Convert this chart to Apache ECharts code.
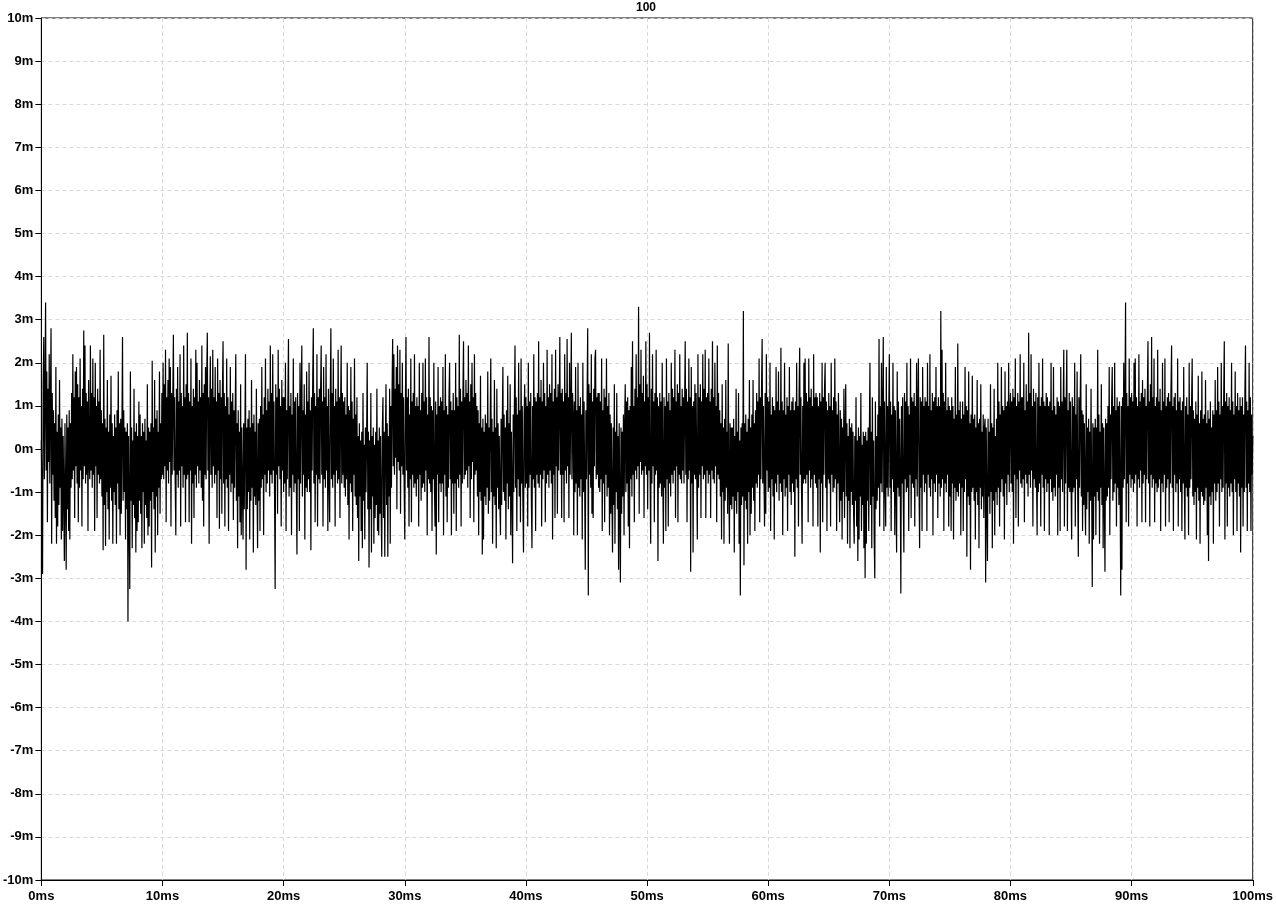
<!DOCTYPE html>
<html>
<head>
<meta charset="utf-8">
<script src="https://cdn.jsdelivr.net/npm/echarts@6/dist/echarts.min.js"></script>
<style>html,body{margin:0;padding:0;background:#fff}#c{width:1276px;height:906px}</style>
</head>
<body>
<div id="c"></div>
<script>
const chartTitle = '100';
const sampleStepMs = 0.05;
const xTicksMs = [0,10,20,30,40,50,60,70,80,90,100];
const yTicksMv = [-10,-9,-8,-7,-6,-5,-4,-3,-2,-1,0,1,2,3,4,5,6,7,8,9,10];
// trace values in mV, one row per millisecond (20 samples each, 0.05 ms apart)
const noiseMv = [
0.2,-1.1,-2.9,1.5,2.6,-0.7,1.2,3.4,-0.5,1.8,-1.7,1.4,-0.3,2.2,-0.8,1.1,2.8,-2.2,1.3,-0.6,
0.9,-1.2,0.6,-1.6,1.9,-2.2,0.4,-1.8,0.8,-1.3,1.6,-0.9,0.5,-2.1,0.7,-1.9,0.3,-1.1,-2.6,0.6,
-1.0,-2.8,0.8,-1.4,0.5,-1.9,0.9,-2.1,0.6,-0.9,1.3,-0.7,2.2,-0.5,1.2,-1.6,1.8,-0.4,1.9,-0.8,
1.5,-1.7,1.2,-0.9,2.1,-0.5,1.0,-1.8,1.4,-0.7,2.75,-0.4,2.4,-0.8,1.3,-0.6,1.1,-1.9,1.6,-0.3,
-0.7,2.4,-0.5,1.3,-0.9,2.1,-0.6,1.2,-1.9,2.0,-0.4,1.0,-1.6,1.4,-0.6,1.1,-0.8,2.3,-0.7,0.9,
-1.1,0.6,-2.35,2.65,-1.3,0.7,-2.25,0.5,-1.0,1.6,-1.4,0.4,-2.1,0.8,-0.9,1.7,-1.2,0.6,-2.2,0.3,
-1.0,0.8,-1.3,0.5,-2.2,0.9,-0.8,1.8,-1.4,0.6,-2.0,0.7,-1.5,0.4,2.6,-1.2,0.9,-1.0,0.5,-2.1,
0.4,-1.4,0.6,-4.0,0.3,-1.5,-3.25,1.8,-1.2,0.5,-2.3,0.2,-1.3,1.4,-1.6,0.4,-2.4,0.6,-1.9,0.3,
-1.7,1.1,-1.2,0.8,-1.5,0.3,-2.3,0.6,-1.0,0.4,-2.2,0.7,-1.3,0.2,-1.6,1.5,-2.0,0.5,-1.8,0.4,
-1.2,0.6,-2.75,2.05,-1.0,0.5,-1.4,1.6,-2.4,0.7,-1.1,0.9,-2.0,0.4,-0.9,1.8,-1.5,0.6,-0.7,1.3,
-0.6,2.0,-0.7,1.5,-0.4,2.3,-1.7,1.2,-0.5,1.6,-0.8,2.1,-0.3,1.9,-1.8,1.3,-0.6,1.1,2.65,-0.5,
1.2,-0.8,-2.0,1.4,-0.6,1.9,-0.9,1.1,-0.5,2.2,-1.8,1.3,-0.4,1.0,-0.9,2.4,-0.6,1.2,-1.7,1.5,
-0.7,2.7,-0.6,1.3,-1.7,1.1,-0.5,2.1,-2.2,1.0,-0.8,1.4,-1.6,1.2,-0.6,2.3,-0.9,2.0,-0.4,1.1,
-0.8,1.6,-0.5,1.2,-0.9,2.4,-1.2,1.3,-1.8,1.5,-0.6,1.9,-0.7,1.7,2.7,-0.5,1.2,-2.2,0.9,2.15,
-0.6,1.4,-0.9,2.3,-0.4,1.2,-0.8,1.9,-0.6,1.1,-1.6,2.1,-0.5,1.3,-1.85,1.6,-0.7,1.2,-1.5,1.4,
2.5,-0.8,1.3,-1.8,1.0,-0.7,2.1,-0.9,1.2,-1.9,0.8,-0.6,1.9,-1.0,1.1,-0.8,1.3,-1.65,0.9,-0.9,
0.8,2.2,-1.2,0.6,-2.3,0.9,-1.1,0.4,-1.7,1.5,-2.0,0.5,-1.0,-2.1,0.6,-1.4,0.3,2.2,-2.8,0.5,
-1.4,0.7,-1.0,0.9,-2.1,0.5,-1.2,1.6,-0.9,0.6,-2.4,0.8,-1.1,0.4,-1.3,1.4,-0.8,-2.3,0.6,-1.2,
0.7,-1.9,1.0,-0.9,1.9,-0.7,0.8,-2.0,1.2,-0.6,2.1,-1.0,0.9,-0.8,1.4,-0.5,1.1,-1.1,2.4,-0.6,
1.3,-0.8,2.2,-0.5,1.1,-1.0,-3.25,1.5,-0.6,1.2,-1.5,2.3,-0.4,1.4,-0.7,1.0,-1.8,1.6,-0.5,1.2,
-1.0,1.2,-0.8,2.0,-1.9,0.9,-0.7,1.1,2.55,-1.1,1.0,-0.9,1.3,-2.0,0.8,-0.6,2.1,-1.0,1.1,-0.8,
1.2,-0.9,-2.45,1.3,-0.7,1.0,-1.9,2.0,-0.8,1.1,2.4,-1.1,0.9,-0.6,1.5,-2.1,0.8,-0.9,1.8,-1.0,
1.1,-0.7,2.0,-1.0,0.9,-2.35,1.2,-0.5,1.6,2.8,-0.8,1.3,-1.7,1.0,-0.6,2.2,-1.8,1.2,-0.7,1.4,
-0.8,1.3,2.4,-0.6,1.1,-1.8,1.9,-0.7,1.2,-0.9,2.2,-0.5,1.0,-1.9,1.4,-0.6,-1.7,1.2,2.8,-0.7,
1.3,-0.9,2.1,-0.6,1.0,-1.8,1.4,-0.5,1.1,-0.8,2.3,-0.7,1.2,-1.6,0.9,2.4,-0.8,1.3,-0.6,1.1,
-0.9,1.2,-1.1,0.8,-0.7,2.0,-1.3,1.0,-2.1,0.9,-0.8,1.9,-1.0,1.1,-1.9,0.7,-0.6,2.1,-1.1,0.8,
-1.3,1.2,-1.6,0.3,-2.6,0.6,-1.1,0.2,-1.9,0.4,-2.3,1.3,-1.2,0.1,-2.1,0.5,-1.0,0.3,2.0,-1.4,
0.4,-2.75,0.2,-1.4,1.3,-2.4,0.3,-1.1,0.5,-2.2,0.1,-1.6,0.4,-1.3,1.4,-1.9,0.2,-2.0,0.5,-1.5,
0.3,-1.4,-2.5,0.5,1.2,-1.6,0.4,-2.5,0.2,1.5,-1.3,0.6,-2.5,0.3,-1.1,1.4,-2.2,1.0,-0.9,1.3,
2.55,-0.4,2.2,-0.6,1.4,-0.2,1.9,-1.4,2.4,-0.3,1.5,-0.5,2.3,-1.5,1.3,-0.4,2.0,-0.6,1.2,-0.9,
-2.1,1.0,2.6,-0.5,1.2,-0.9,1.4,-1.8,0.8,-0.7,2.1,-1.7,1.1,-0.6,1.3,-0.9,2.2,-0.8,1.0,-1.1,
1.2,-0.7,1.0,-1.8,2.0,-0.6,0.9,-1.2,1.3,-0.9,2.0,-0.8,1.1,-1.0,2.1,-0.5,1.2,-2.0,0.8,-0.7,
2.6,-0.8,1.2,-1.0,1.0,-1.9,0.9,-0.7,2.0,-0.9,-1.8,1.1,-2.45,0.8,-0.6,1.9,-1.7,1.0,-0.8,1.2,
-1.0,1.1,-0.8,1.9,-2.0,0.9,-0.6,2.2,-1.1,1.0,-1.7,0.8,-0.9,1.2,2.0,-0.7,1.1,-2.0,0.9,-0.8,
1.3,-1.5,0.9,-0.8,2.0,-1.9,1.2,-0.7,1.0,-0.9,2.65,-0.6,1.4,-1.8,1.1,-0.8,1.3,2.5,-0.7,1.2,
-0.6,1.6,-0.5,1.3,-0.9,2.4,-0.4,1.1,-1.6,1.5,-0.7,2.0,-0.3,1.2,-1.7,2.2,-0.6,1.3,-0.5,1.0,
-1.1,0.9,-2.0,0.6,-1.0,1.7,-1.2,0.5,-2.45,0.7,-2.1,0.4,-1.1,0.8,-1.3,0.6,-0.9,1.8,-1.5,0.5,
-1.2,0.6,2.1,-1.0,0.7,-2.2,0.4,-1.1,1.6,-1.3,0.5,-2.3,1.4,-0.9,0.6,-1.4,0.3,-1.2,-2.0,0.7,
-1.3,0.6,1.9,-1.0,0.8,-1.2,0.5,-2.1,0.9,-0.8,1.7,-1.4,0.6,-1.1,1.5,-2.0,0.4,-0.9,-2.65,0.8,
-1.0,1.1,2.4,-0.9,1.2,-1.9,0.8,-0.7,2.0,-1.1,0.9,-1.7,2.1,-0.8,1.0,-1.2,-2.4,0.7,1.5,-0.9,
1.2,-0.8,1.0,-1.8,2.0,-0.9,1.1,-0.6,1.3,-1.2,-2.3,1.0,-0.7,2.2,-0.9,1.2,-1.9,1.1,-0.6,1.3,
-0.8,2.5,-0.9,1.2,-0.6,1.6,-1.8,1.1,-0.7,2.0,-0.5,1.3,-1.7,1.0,-0.8,2.3,-0.6,1.2,-0.9,1.5,
-0.5,1.3,-0.8,2.2,-2.1,1.1,-0.6,1.4,-1.6,2.3,-0.4,1.2,-1.5,1.5,-0.5,1.0,2.6,-0.6,1.3,-1.6,
1.4,-0.6,1.1,-1.7,2.2,-0.5,1.3,-0.8,2.55,-0.4,1.2,-1.6,2.0,-0.6,1.0,2.7,-0.7,1.3,0.8,-2.0,
1.1,-1.0,1.9,-0.8,0.9,-2.0,2.0,-0.9,1.0,-1.1,1.2,-0.7,0.8,-2.1,2.0,-1.0,1.1,-0.8,-2.8,0.9,
-0.7,1.2,2.8,-3.4,1.5,-0.6,1.3,-0.9,2.2,-1.5,1.1,-1.6,1.4,-0.4,2.1,2.3,-0.7,1.2,-0.6,1.3,
-0.9,1.3,-1.0,1.1,-0.7,2.1,-1.9,0.9,-0.8,1.4,-1.7,1.2,-0.6,2.1,-1.1,1.0,-0.9,1.3,-2.0,0.8,
-1.5,0.6,-1.1,-2.4,0.5,-1.3,1.5,-2.2,0.4,-1.0,1.3,-1.4,0.3,-2.8,0.6,-1.2,-3.1,0.5,-1.5,0.4,
-1.1,0.8,-2.0,0.6,1.5,-1.0,1.1,-0.8,1.2,-1.8,0.9,-2.3,1.0,-0.7,1.9,-1.1,2.5,-0.6,1.0,-1.7,
1.4,-0.5,2.2,-0.7,1.2,-0.4,3.3,-1.5,1.5,-0.3,2.3,-0.6,1.3,-0.5,1.7,-1.6,1.1,-0.4,2.5,-0.6,
1.5,-1.4,1.2,-0.5,2.7,-0.6,-2.2,1.4,-0.8,2.2,-0.4,1.1,-1.7,1.3,-0.6,2.3,-0.5,1.2,-2.6,1.0,
-0.9,1.3,-0.8,1.1,-1.1,2.0,-0.6,-2.2,1.2,-0.9,1.0,-1.9,2.1,-0.7,1.1,-1.8,1.3,-0.8,0.9,-1.1,
2.0,-0.6,1.4,-0.8,1.2,-0.5,2.3,-1.6,1.1,-0.4,1.5,-1.7,1.3,-0.6,2.2,-0.7,1.0,-0.8,1.4,-0.5,
1.2,-0.8,1.0,2.5,-0.6,1.4,-1.7,1.1,-0.7,2.1,-0.5,1.2,-2.85,1.9,-0.8,1.0,-2.4,1.1,-0.6,1.5,
-0.7,1.3,-0.5,-2.1,2.2,-0.9,1.2,-0.6,1.5,-1.6,1.1,-0.4,2.2,-0.7,1.4,-0.6,2.3,-1.6,1.2,-0.5,
1.3,-0.8,2.1,-0.6,1.1,-1.6,1.4,-0.5,2.5,-0.7,1.2,-0.8,2.0,-0.4,1.0,-1.7,2.4,-0.6,1.3,-0.7,
0.9,-1.1,0.6,-2.1,1.5,-1.0,0.5,-2.2,0.7,-1.2,1.6,-0.9,0.4,-1.5,2.45,-0.8,-2.2,0.6,-1.3,0.5,
-1.4,0.5,-1.1,0.7,-2.4,0.3,-1.2,1.4,-1.5,0.4,-1.0,1.3,-2.2,0.2,-3.4,0.5,-1.3,0.6,-1.1,3.2,
-2.7,0.6,-1.2,0.8,-1.4,0.4,-2.2,0.7,-1.0,1.6,-2.0,0.5,-1.5,0.8,-0.9,1.6,-1.2,0.6,-1.9,0.9,
-0.8,1.3,-0.9,1.1,-0.6,2.1,-1.7,1.2,-0.7,1.4,2.55,-0.8,1.0,-0.6,-1.8,1.3,-1.5,2.2,-0.5,1.2,
-1.0,1.1,-0.9,2.0,-1.9,0.8,-0.7,1.2,-1.1,1.0,-2.1,0.9,-0.8,1.9,-1.0,1.1,-0.6,1.8,-1.2,0.9,
-0.8,2.35,-1.0,1.1,-2.0,0.9,-0.7,2.0,-1.1,0.8,-0.9,1.2,-1.9,1.0,-0.6,1.9,-1.0,0.9,-1.3,1.1,
-0.8,1.2,-1.0,0.9,-2.5,1.1,-0.7,2.0,-0.9,1.0,-1.8,1.3,2.35,-0.6,1.2,-0.9,-2.2,1.0,-0.8,2.0,
-0.7,2.1,-0.8,1.3,-0.6,1.1,-1.7,2.1,-0.5,1.2,-0.9,1.4,-0.7,1.0,-1.8,2.2,-0.6,1.2,-0.8,1.3,
-0.9,1.2,-1.8,1.0,-0.7,1.3,-2.4,1.1,-0.8,2.0,-1.7,1.2,-0.6,1.4,2.0,-0.9,1.1,-1.9,0.9,-0.7,
1.3,-0.8,1.0,-1.8,2.0,-0.6,0.9,-1.0,1.2,-0.9,2.1,-0.7,1.1,-1.9,0.8,-0.8,1.3,-0.6,-1.7,0.9,
-1.2,0.7,-2.1,0.5,-1.0,1.4,-1.6,0.4,1.5,-1.1,0.6,-2.2,0.3,-1.2,0.7,-2.3,0.5,-1.0,0.6,-1.3,
0.4,-1.5,-2.2,0.3,-1.2,1.2,-1.8,0.2,-2.6,0.5,-2.1,0.3,-1.1,1.3,-1.9,0.1,-1.3,0.4,-2.3,0.3,
-3.0,0.4,-2.2,0.2,-1.2,0.5,-1.9,0.3,2.0,-1.3,0.4,-2.3,1.2,-1.1,0.2,-2.1,-3.0,1.1,-1.4,0.3,
-1.2,0.8,-0.9,2.55,-1.8,1.0,-0.8,2.0,-1.0,0.9,2.6,-1.9,1.1,-0.7,-1.8,1.9,-0.9,1.0,-1.1,0.8,
2.2,-0.9,1.1,-1.9,0.8,-0.7,2.0,-1.0,1.0,-2.0,0.9,-0.8,-2.4,1.8,-0.9,1.1,-1.1,0.7,-0.6,-3.35,
1.0,-0.8,1.2,-1.1,-2.4,1.3,-0.7,1.1,-1.0,2.0,-0.9,1.0,-1.9,0.8,-0.6,2.1,-1.6,1.2,-0.8,1.1,
-0.9,1.3,-1.8,1.0,-0.7,2.0,-1.1,0.9,2.1,-0.8,-2.3,1.2,-0.9,1.1,-1.9,1.9,-0.6,1.0,-1.0,1.2,
-0.8,1.1,-1.9,2.0,-0.6,1.0,-0.9,2.2,-1.1,0.9,-0.7,1.3,-2.0,1.1,-0.8,1.2,-1.0,1.9,-0.6,1.0,
-1.6,1.2,-0.8,1.0,-1.1,3.2,-0.9,2.3,-0.7,1.3,-1.9,1.1,-0.8,2.0,-1.0,0.9,-0.6,1.2,-1.8,1.0,
-1.1,0.9,-1.9,1.2,-0.8,1.0,-2.1,0.7,-0.9,1.9,-1.2,0.8,-1.0,2.45,-1.1,0.9,-0.8,1.1,-2.0,0.7,
-0.9,1.1,-1.9,0.8,-1.0,1.9,-0.7,1.0,-2.5,0.9,-1.1,1.8,-1.3,0.6,-2.8,0.8,-1.0,1.7,-0.9,0.7,
-1.2,0.8,-2.1,0.5,-1.0,1.6,-1.3,0.6,-2.3,0.7,-0.9,1.5,-1.4,0.4,-1.1,0.8,-1.6,0.5,0.7,-3.1,
0.5,-1.3,-2.6,0.7,-1.1,0.4,-1.5,1.5,-1.0,0.6,-2.3,0.5,-1.2,1.4,-2.0,0.3,-1.0,0.7,-1.3,2.0,
-0.9,1.1,-1.8,0.8,-1.0,1.9,-0.7,1.0,-1.1,0.9,-2.1,1.8,-0.8,1.0,-1.3,1.1,-0.6,2.0,-1.0,0.8,
1.3,-0.8,1.1,-1.0,1.4,-2.2,1.2,-0.6,2.1,-1.6,1.0,-0.7,1.3,-1.8,1.1,-0.5,2.2,-0.8,1.2,-0.9,
1.2,-0.7,2.0,-1.7,0.9,-0.6,1.5,-0.8,1.1,-1.1,2.7,-0.6,1.3,-0.9,2.2,-0.5,1.0,-1.8,1.4,-0.7,
1.1,-0.9,1.3,-0.7,-2.0,1.2,-1.0,2.0,-0.8,1.0,-1.8,1.2,-0.6,2.1,-0.9,1.1,-1.9,1.0,-0.7,1.3,
-1.0,1.2,-0.8,1.0,-2.0,1.1,-0.7,2.0,-1.0,0.9,-1.2,1.9,-0.9,1.0,-1.1,0.8,-0.6,1.2,-2.0,1.1,
-0.9,1.0,-1.9,1.9,-0.7,1.1,-1.0,0.9,2.3,-1.8,1.2,-0.8,1.0,2.3,-1.9,0.9,-0.9,1.3,-1.0,1.1,
-0.8,-2.1,1.2,-1.0,1.0,-0.9,2.0,-1.8,0.8,-0.7,1.8,-1.0,-2.5,1.2,-0.9,1.0,2.2,-1.1,0.9,-1.9,
0.8,-1.3,0.6,-1.1,-2.0,1.5,-1.4,0.5,-1.0,0.7,-2.2,0.4,-1.2,1.4,-0.9,-3.2,0.6,-2.1,0.5,-1.1,
0.7,-2.0,0.5,-1.0,2.3,-1.2,0.8,-2.2,0.4,-0.9,1.5,-1.3,0.6,-2.3,0.5,-1.1,-2.85,0.7,-1.2,0.6,
-1.1,1.0,-0.9,1.9,-2.0,0.8,-0.7,1.1,1.9,-1.2,1.0,-1.0,2.0,-0.8,0.9,-1.8,1.2,-0.9,1.0,-1.3,
1.1,-0.8,-3.4,1.0,-2.8,1.2,-0.9,2.0,-0.7,1.1,3.4,-1.7,1.3,-0.8,1.0,-1.8,2.1,-0.6,1.2,-0.9,
1.3,-0.7,1.1,-1.0,2.0,-0.8,2.1,-0.6,1.2,-1.8,1.0,-0.7,2.2,-0.9,1.1,-0.5,1.3,-1.7,1.6,-0.8,
1.2,-0.6,1.4,-1.7,1.0,-0.7,1.3,2.5,-0.8,1.1,-1.8,1.5,-0.6,2.6,-0.9,1.2,-0.7,2.1,-1.7,1.0,
-0.8,1.2,-1.0,2.3,-0.9,1.1,-0.7,1.4,-1.9,0.9,-0.8,2.0,-1.0,1.1,-0.6,2.1,-1.8,1.0,-0.9,1.2,
-0.7,1.3,-1.7,1.1,-0.8,1.4,2.4,-0.9,1.0,-1.9,1.2,-0.6,1.3,-1.0,0.9,-0.8,2.1,-1.8,1.1,-0.7,
1.2,-1.0,0.9,-1.9,1.1,-0.8,1.9,-0.7,-2.1,1.0,-0.9,1.2,-1.1,0.8,-2.0,2.0,-0.9,1.0,-0.7,1.1,
2.1,-1.1,0.9,-1.3,0.7,-1.0,1.1,-2.1,0.8,-0.9,1.7,-1.2,0.6,-2.2,0.9,-1.0,1.8,-1.1,0.7,-1.3,
0.8,-1.2,1.6,-0.9,0.6,-2.0,0.9,-2.6,0.7,-1.1,1.1,-1.3,0.5,-1.0,0.9,-2.2,0.8,-0.8,1.6,-1.2,
0.9,-1.0,1.9,-0.8,1.1,-1.8,0.8,-0.7,2.0,-1.0,1.0,-0.9,1.2,2.5,-2.1,1.1,-0.8,1.3,-1.8,1.0,
-0.9,1.2,-1.1,0.9,-0.8,2.0,-1.0,1.1,-2.0,0.8,-0.7,1.8,-1.0,1.0,-1.9,1.3,-0.8,0.9,-1.1,1.2,
-2.4,1.0,-0.9,1.2,-1.8,0.8,-1.0,1.3,2.4,-0.9,1.1,-1.9,0.9,-0.8,2.0,-1.0,1.2,-1.9,0.8,-0.6,
0.3
];

const seriesData = noiseMv.map((v, i) => [+(i * sampleStepMs).toFixed(2), v]);
const labelFont = { fontFamily: 'Liberation Sans, Arial, sans-serif', fontWeight: 'bold', fontSize: 13, color: '#000' };

const chart = echarts.init(document.getElementById('c'), null, { renderer: 'canvas' });
chart.setOption({
  animation: false,
  backgroundColor: '#fff',
  graphic: [{
    type: 'text', left: 647 - 11, top: 2,
    style: { text: chartTitle, font: 'bold 12px Liberation Sans, Arial, sans-serif', fill: '#000' }
  }],
  grid: { left: 40, right: 21, top: 18, bottom: 26, show: true, borderColor: '#000', borderWidth: 1, backgroundColor: 'transparent', containLabel: false },
  xAxis: {
    type: 'value', min: xTicksMs[0], max: xTicksMs[xTicksMs.length - 1], interval: 10,
    axisLine: { show: true, onZero: false, lineStyle: { color: '#000', width: 1 } },
    axisTick: { show: true, inside: false, length: 6, lineStyle: { color: '#000' } },
    axisLabel: Object.assign({ margin: 10, formatter: v => v + 'ms' }, labelFont),
    splitLine: { show: true, lineStyle: { color: '#d9d9d9', type: [4, 3], width: 1 } }
  },
  yAxis: {
    type: 'value', min: yTicksMv[0], max: yTicksMv[yTicksMv.length - 1], interval: 1,
    axisLine: { show: true, onZero: false, lineStyle: { color: '#000', width: 1 } },
    axisTick: { show: true, inside: false, length: 6, lineStyle: { color: '#000' } },
    axisLabel: Object.assign({ margin: 8, formatter: v => v + 'm' }, labelFont),
    splitLine: { show: true, lineStyle: { color: '#d9d9d9', type: [4, 3], width: 1 } }
  },
  series: [{
    type: 'line', data: seriesData, showSymbol: false, symbol: 'none', silent: true,
    sampling: false, lineStyle: { color: '#000', width: 1.2 }, z: 3
  }]
});
</script>
</body>
</html>
